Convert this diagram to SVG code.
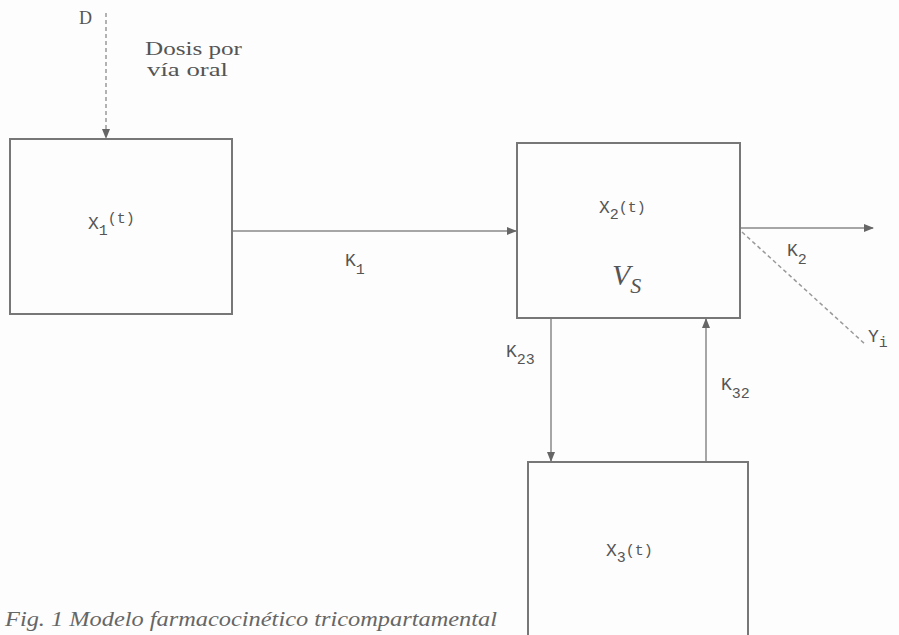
<svg xmlns="http://www.w3.org/2000/svg" width="899" height="635" viewBox="0 0 899 635">
<defs>
<marker id="ah" markerWidth="10" markerHeight="8" refX="9" refY="4" orient="auto" markerUnits="userSpaceOnUse">
<path d="M0,0 L10,4 L0,8 Z" fill="#666"/>
</marker>
<style>
.box{fill:none;stroke:#777;stroke-width:2}
.ln{fill:none;stroke:#888;stroke-width:1.5}
.ds{fill:none;stroke:#999;stroke-width:1.5;stroke-dasharray:4,3}
.t{font-family:"Liberation Mono",monospace;font-size:18px;fill:#555}
.s{font-family:"Liberation Mono",monospace;font-size:15px;fill:#555}
.d{font-family:"Liberation Serif",serif;font-size:18px;fill:#555}
</style>
</defs>
<rect width="899" height="635" fill="#fdfdfd"/>
<g id="connectors">
<line class="ds" x1="106" y1="13" x2="106" y2="138" marker-end="url(#ah)"/>
<line class="ln" x1="232" y1="231" x2="516" y2="231" marker-end="url(#ah)"/>
<line class="ln" x1="740" y1="228" x2="873" y2="228" marker-end="url(#ah)"/>
<line class="ds" x1="742" y1="232" x2="866" y2="345"/>
<line class="ln" x1="551" y1="318" x2="551" y2="461" marker-end="url(#ah)"/>
<line class="ln" x1="706" y1="462" x2="706" y2="319" marker-end="url(#ah)"/>
</g>
<g id="labels">
<text class="d" x="79" y="24">D</text>
<text class="d" x="145" y="55" textLength="97" lengthAdjust="spacingAndGlyphs">Dosis por</text>
<text class="d" x="147" y="76" textLength="81" lengthAdjust="spacingAndGlyphs">vía oral</text>
<text class="t" x="345" y="266">K<tspan class="s" dy="8">1</tspan></text>
<text class="t" x="787" y="256">K<tspan class="s" dy="8">2</tspan></text>
<text class="t" x="868" y="342">Y<tspan class="s" dy="5">i</tspan></text>
<text class="t" x="506" y="357">K<tspan class="s" dy="7">23</tspan></text>
<text class="t" x="721" y="390">K<tspan class="s" dy="8">32</tspan></text>
</g>
<g id="x1">
<rect class="box" x="10" y="139" width="222" height="175"/>
<text class="t" x="88" y="229">X<tspan class="s" dy="6">1</tspan><tspan class="s" dy="-12">(t)</tspan></text>
</g>
<g id="x2">
<rect class="box" x="517" y="143" width="223" height="175"/>
<text class="t" x="599" y="213">X<tspan class="s" dy="6">2</tspan><tspan class="s" dy="-7">(t)</tspan></text>
<text x="612" y="285" font-family="Liberation Serif,serif" font-style="italic" font-size="30" fill="#555">V<tspan font-size="22" dy="8">S</tspan></text>
</g>
<g id="x3">
<rect class="box" x="528" y="462" width="220" height="180"/>
<text class="t" x="606" y="556">X<tspan class="s" dy="6">3</tspan><tspan class="s" dy="-7">(t)</tspan></text>
</g>
<text x="5" y="626" font-family="Liberation Serif,serif" font-style="italic" font-size="20" fill="#666" textLength="492" lengthAdjust="spacingAndGlyphs">Fig. 1 Modelo farmacocinético tricompartamental</text>
</svg>
